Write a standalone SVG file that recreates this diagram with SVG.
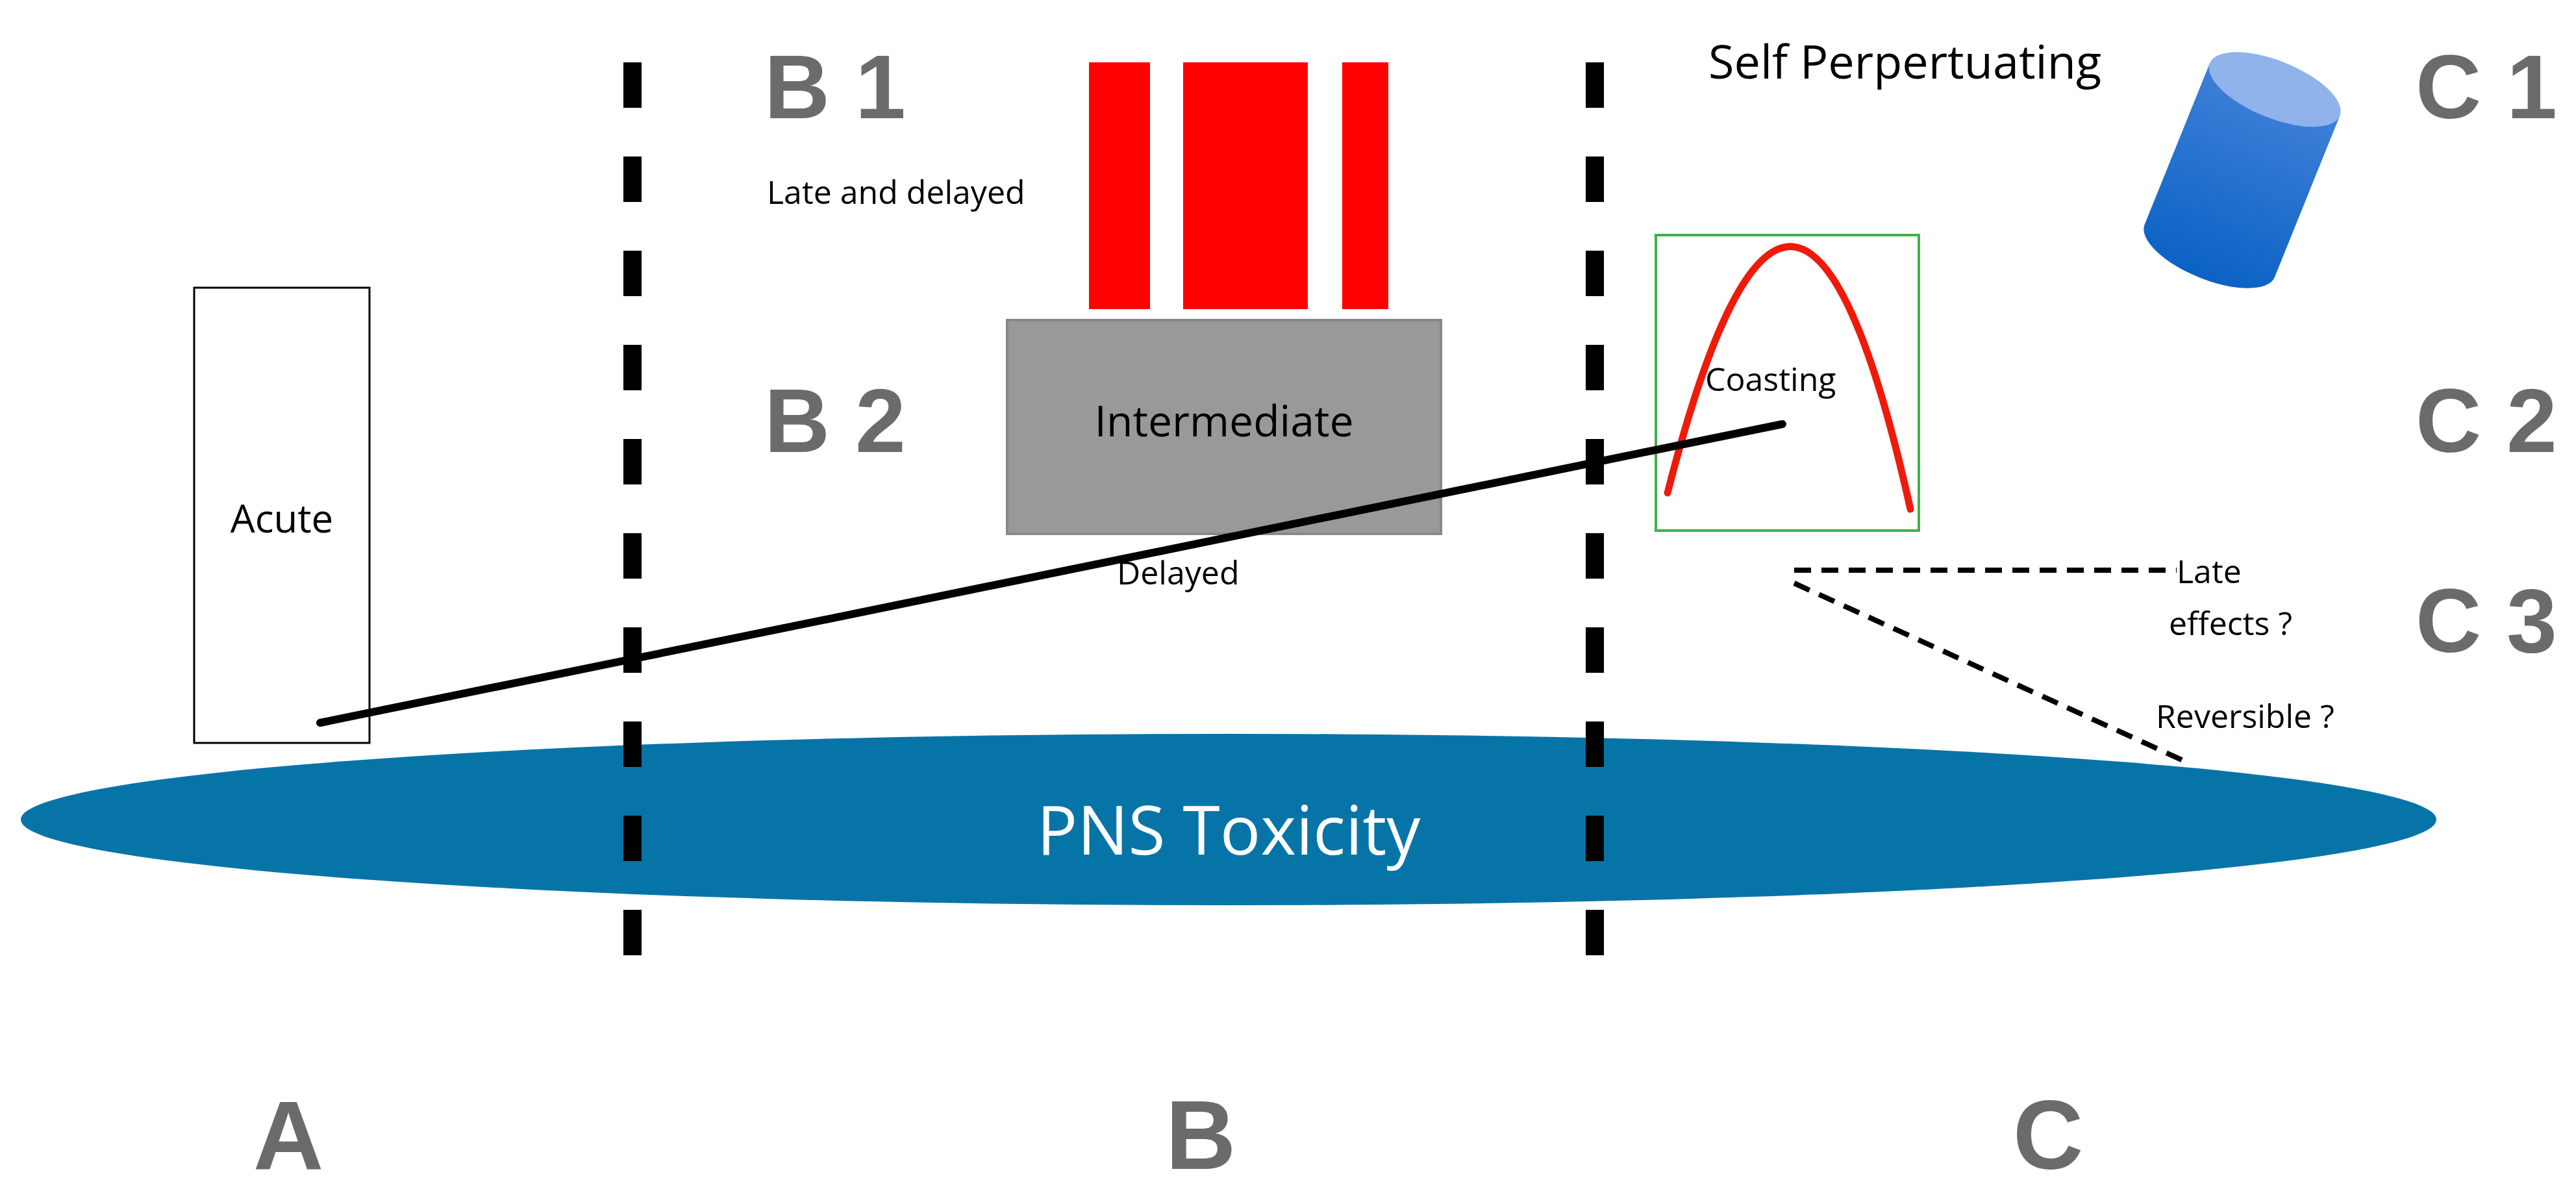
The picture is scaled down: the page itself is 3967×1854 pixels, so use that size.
<svg xmlns="http://www.w3.org/2000/svg" width="3967" height="1854" viewBox="0 0 3967 1854">
<style>
.lbl{font-family:"Liberation Sans",Arial,sans-serif;font-weight:bold;fill:#6b6b6b}
.t{font-family:"Open Sans","Liberation Sans",sans-serif;fill:#000}
.div{stroke:#000;stroke-width:28;stroke-dasharray:70 75;fill:none}
.dsh{stroke:#000;stroke-width:8;stroke-dasharray:26 16;fill:none}
</style>
<defs>
<linearGradient id="cyl" x1="0" y1="0" x2="0" y2="1">
<stop offset="0" stop-color="#3f80d8"/><stop offset="1" stop-color="#0a62c4"/>
</linearGradient>
</defs>
<rect width="3967" height="1854" fill="#fff"/>
<g id="labels">
<text class="lbl" x="1177" y="182" font-size="140">B 1</text>
<text class="lbl" x="1177" y="696" font-size="140">B 2</text>
<text class="lbl" x="3720" y="182" font-size="140">C 1</text>
<text class="lbl" x="3720" y="696" font-size="140">C 2</text>
<text class="lbl" x="3720" y="1004" font-size="140">C 3</text>
<text class="lbl" x="390" y="1800" font-size="150">A</text>
<text class="lbl" x="1795" y="1800" font-size="150">B</text>
<text class="lbl" x="3100" y="1800" font-size="150">C</text>
</g>
<g id="pns">
<ellipse cx="1892" cy="1262" rx="1860" ry="132" fill="#0774a8"/>
<text x="1892" y="1316" font-size="104" text-anchor="middle" font-family="Open Sans, Liberation Sans, sans-serif" fill="#fff">PNS Toxicity</text>
</g>
<g id="dividers">
<line class="div" x1="974" y1="96" x2="974" y2="1500"/>
<line class="div" x1="2456" y1="96" x2="2456" y2="1500"/>
</g>
<g id="acute">
<rect x="299" y="443" width="270" height="701" fill="#fff" stroke="#000" stroke-width="3"/>
<text class="t" x="434" y="820" font-size="60" text-anchor="middle">Acute</text>
</g>
<g id="late-delayed">
<rect x="1677" y="96" width="94" height="380" fill="#f00"/>
<rect x="1822" y="96" width="192" height="380" fill="#f00"/>
<rect x="2067" y="96" width="71" height="380" fill="#f00"/>
<text class="t" x="1181" y="314" font-size="50">Late and delayed</text>
</g>
<g id="intermediate">
<rect x="1551" y="493" width="668" height="329" fill="#999" stroke="#888" stroke-width="4"/>
<text class="t" x="1885" y="672" font-size="66" text-anchor="middle">Intermediate</text>
</g>
<g id="coasting">
<rect x="2550" y="362" width="405" height="455" fill="none" stroke="#3bb34a" stroke-width="4"/>
<path d="M2568,759 Q2765,-12 2942,784" fill="none" stroke="#f01a0a" stroke-width="11" stroke-linecap="round"/>
<text class="t" x="2626" y="602" font-size="50">Coasting</text>
</g>
<g id="self">
<text class="t" x="2631" y="121" font-size="72">Self Perpertuating</text>
<g transform="translate(3453,262) rotate(22)">
<path d="M-108,-134 L-108,134 A108,44 0 0 0 108,134 L108,-134 Z" fill="url(#cyl)"/>
<ellipse cx="0" cy="-134" rx="108" ry="44" fill="#8fb3ea"/>
</g>
</g>
<g id="connectors">
<line x1="493" y1="1113" x2="2745" y2="653" stroke="#000" stroke-width="12" stroke-linecap="round"/>
<line class="dsh" x1="2763" y1="878" x2="3352" y2="878"/>
<line class="dsh" x1="2763" y1="898" x2="3362" y2="1171"/>
</g>
<g id="texts">
<text class="t" x="1720" y="900" font-size="50">Delayed</text>
<text class="t" x="3352" y="898" font-size="50">Late</text>
<text class="t" x="3340" y="978" font-size="50">effects ?</text>
<text class="t" x="3320" y="1121" font-size="50">Reversible ?</text>
</g>
</svg>
